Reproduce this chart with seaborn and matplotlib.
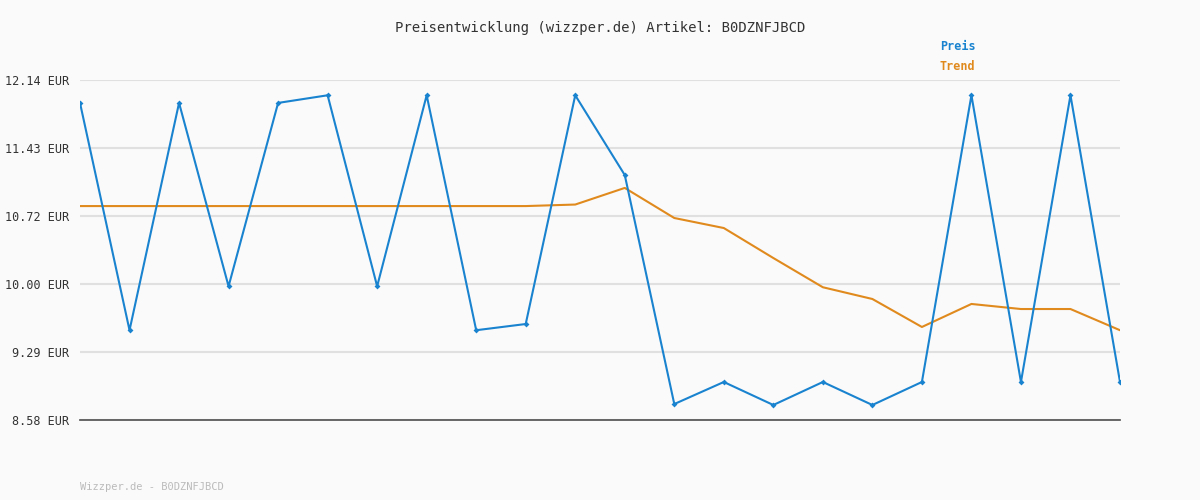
import matplotlib
matplotlib.use("Agg")
import matplotlib.pyplot as plt
import seaborn as sns
import pandas as pd

preis = [11.90, 9.52, 11.90, 9.98, 11.90, 11.98, 9.98, 11.98, 9.52, 9.585, 11.98, 11.145,
         8.747, 8.978, 8.737, 8.978, 8.737, 8.978, 11.98, 8.978, 11.98, 8.978]
trend = [10.82]*10 + [10.836, 11.01, 10.695, 10.59, 10.276, 9.97, 9.847, 9.554, 9.795, 9.742, 9.742, 9.52]
yticks = [8.58, 9.29, 10.00, 10.72, 11.43, 12.14]
idx = list(range(len(preis)))

sns.set_theme(style="white")
plt.rcParams['font.family'] = ['DejaVu Sans Mono']
fig = plt.figure(figsize=(12, 5), dpi=100, facecolor="#fafafa")
ax = fig.add_axes([80/1200, 80/500, 1040/1200, 340/500])
ax.set_facecolor("#fafafa")
df = pd.DataFrame({"x": idx, "Preis": preis, "Trend": trend})
sns.lineplot(data=df, x="x", y="Trend", ax=ax, color="#e08a1e", lw=1.5)
sns.lineplot(data=df, x="x", y="Preis", ax=ax, color="#1a83cf", lw=1.5, marker="D", markersize=3, markeredgewidth=0)
ax.set_xlim(0, len(preis)-1)
ax.set_ylim(8.58, 12.14)
ax.set_yticks(yticks)
ax.set_yticklabels([f"{v:.2f} EUR" for v in yticks], fontsize=8.5, color="#333")
ax.set_xticks([])
ax.set_xlabel(""); ax.set_ylabel("")
ax.grid(axis="y", color="#e0e0e0", lw=1.5)
for s in ["top", "right", "left"]:
    ax.spines[s].set_visible(False)
ax.spines["bottom"].set_color("#555")
ax.tick_params(axis="y", length=6, color="#555", pad=2)
fig.text(0.5, 1-28/500, "Preisentwicklung (wizzper.de) Artikel: B0DZNFJBCD", ha="center", va="center", fontsize=10, color="#333")
fig.text(940/1200, 1-47/500, "Preis", color="#1a83cf", fontsize=8.5, weight="bold", va="center")
fig.text(940/1200, 1-67/500, "Trend", color="#e08a1e", fontsize=8.5, weight="bold", va="center")
fig.text(80/1200, 1-487/500, "Wizzper.de - B0DZNFJBCD", color="#bbb", fontsize=7.5, va="center")
fig.savefig("out.png", dpi=100, facecolor=fig.get_facecolor())
